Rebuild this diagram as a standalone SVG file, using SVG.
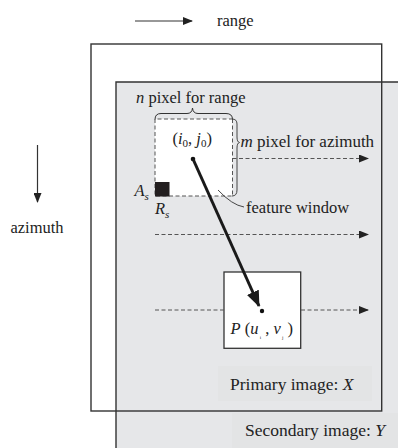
<svg xmlns="http://www.w3.org/2000/svg" width="398" height="448" viewBox="0 0 398 448" font-family="'Liberation Serif', 'DejaVu Serif', serif">
<defs>
<style>
text{font-family:'Liberation Serif','DejaVu Serif',serif;fill:#222;}
.t{font-size:16.5px;}
.big{font-size:17.5px;}
.it{font-style:italic;}
.dash{stroke:#555;stroke-width:1;stroke-dasharray:4,2.5;fill:none;}
.frame{stroke:#333;stroke-width:1.4;fill:none;}
</style>
<marker id="ah" markerWidth="10" markerHeight="8" refX="9" refY="4" orient="auto" markerUnits="userSpaceOnUse">
<path d="M0,0 L10,4 L0,8 Z" fill="#222"/>
</marker>
<marker id="ahBig" markerWidth="16" markerHeight="13" refX="15" refY="6.5" orient="auto" markerUnits="userSpaceOnUse">
<path d="M0,0 L16,6.5 L0,13 Z" fill="#1a1a1a"/>
</marker>
</defs>
<g id="legend">
<line x1="135" y1="21" x2="192" y2="21" stroke="#333" stroke-width="1.2" marker-end="url(#ah)"/>
<text class="t" x="217" y="26">range</text>
<line x1="37.5" y1="145" x2="37.5" y2="202" stroke="#333" stroke-width="1.2" marker-end="url(#ah)"/>
<text class="t" x="37" y="232.5" text-anchor="middle">azimuth</text>
</g>
<g id="secondary-image">
<rect x="116" y="82" width="300" height="380" fill="#e6e7e9"/>
<path d="M116,448 V82 H398" class="frame"/>
<rect x="232" y="413" width="166" height="35" fill="#e3e4e5"/>
<text class="big" x="245" y="435.5">Secondary image: <tspan class="it">Y</tspan></text>
</g>
<g id="primary-image">
<rect x="91" y="44" width="290.7" height="367" class="frame"/>
<rect x="218" y="366" width="154" height="35" fill="#e3e4e5"/>
<text class="big" x="230" y="389.5">Primary image: <tspan class="it">X</tspan></text>
</g>
<g id="feature-window">
<rect x="155" y="119" width="77.5" height="77" fill="#fff"/>
<path d="M232.5,119 V196 H155 V119 H232.5" class="dash"/>
<path d="M155,119.5 Q155,113.5 161,113.5 H187 Q192,113.5 192.5,108 Q193,113.5 198,113.5 H226 Q232.5,113.5 232.5,119.5" fill="none" stroke="#333" stroke-width="1"/>
<path d="M232,119 Q237,119 237,124 V137 Q237,142 239.5,142.5 Q237,143 237,148 V190 Q237,196 232,196" fill="none" stroke="#444" stroke-width="1"/>
<text class="t" x="136" y="103"><tspan class="it">n</tspan> pixel for range</text>
<text class="t" x="240.5" y="146.5" font-size="17" style="font-size:17px"><tspan class="it">m</tspan> pixel for azimuth</text>
<text class="t" x="172.5" y="143.5">(<tspan class="it">i</tspan><tspan font-size="11" dy="3">0</tspan><tspan dy="-3">, </tspan><tspan class="it">j</tspan><tspan font-size="11" dy="3">0</tspan><tspan dy="-3">)</tspan></text>
<path d="M218,190 Q232,205 244,207" fill="none" stroke="#333" stroke-width="0.9"/>
<text class="t" x="246" y="213">feature window</text>
</g>
<g id="seed-pixel">
<rect x="155" y="182" width="14.5" height="14.5" fill="#231f20"/>
<text class="t it" x="134.5" y="196">A<tspan font-size="11" dy="4">s</tspan></text>
<text class="t it" x="155" y="213.5">R<tspan font-size="11" dy="4">s</tspan></text>
</g>
<g id="match-window">
<rect x="224" y="272" width="76.7" height="76.3" fill="#fff" stroke="#333" stroke-width="1.3"/>
<circle cx="262" cy="311" r="2.2" fill="#111"/>
<text class="t" x="230.5" y="333.5"><tspan class="it">P</tspan> (<tspan class="it">u</tspan><tspan font-size="5" dy="5"> i</tspan><tspan dy="-5"> , </tspan><tspan class="it">v</tspan><tspan font-size="5" dy="5"> j</tspan><tspan dy="-5"> )</tspan></text>
</g>
<g id="connectors">
<line x1="232.5" y1="158.5" x2="368" y2="158.5" class="dash" marker-end="url(#ah)"/>
<line x1="155" y1="234.5" x2="368" y2="234.5" class="dash" marker-end="url(#ah)"/>
<line x1="155" y1="310" x2="224" y2="310" class="dash"/>
<line x1="301" y1="310" x2="368" y2="310" class="dash" marker-end="url(#ah)"/>
<circle cx="193" cy="159" r="2.3" fill="#111"/>
<line x1="193" y1="159" x2="259" y2="306" stroke="#1a1a1a" stroke-width="3" marker-end="url(#ahBig)"/>
</g>
</svg>
